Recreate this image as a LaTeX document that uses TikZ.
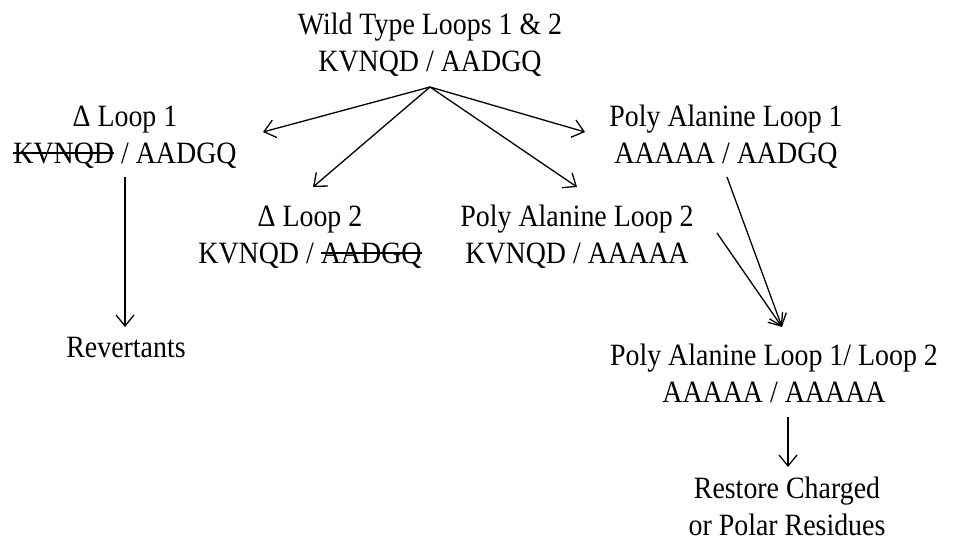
\documentclass[tikz,border=0pt]{standalone}
\usepackage{fontspec}
\setmainfont[FakeStretch=0.9]{Liberation Serif}
\usetikzlibrary{arrows.meta}
\newcommand\mystrike[1]{\setbox0\hbox{#1}\rlap{\raisebox{0.3em}{\rule{\wd0}{0.05em}}}\box0\relax}
\tikzset{
  lbl/.style={align=center, inner sep=0pt, anchor=base, font=\fontsize{31}{37}\selectfont},
  arr/.style={line width=1.3pt, -{Straight Barb[length=11pt,width=18pt,line width=1.3pt]}}
}
\begin{document}
\begin{tikzpicture}[x=1pt,y=-1pt]
\useasboundingbox (0,0) rectangle (954,541);
\node[lbl] (wt) at (430,71) {Wild Type Loops 1 \& 2\\KVNQD / AADGQ};
\node[lbl] (d1) at (125,163) {Δ Loop 1\\\mystrike{KVNQD} / AADGQ};
\node[lbl] (d2) at (310,263) {Δ Loop 2\\KVNQD / \mystrike{AADGQ}};
\node[lbl] (pa2) at (577,263) {Poly Alanine Loop 2\\KVNQD / AAAAA};
\node[lbl] (pa1) at (726,163) {Poly Alanine Loop 1\\AAAAA / AADGQ};
\node[lbl] (pa12) at (774,402) {Poly Alanine Loop 1/ Loop 2\\AAAAA / AAAAA};
\node[lbl] (rev) at (126,357) {Revertants};
\node[lbl] (rest) at (787,535) {Restore Charged\\or Polar Residues};
\coordinate (wtout) at (430,87);
\coordinate (d1in) at (263,132);
\coordinate (d2in) at (313,187);
\coordinate (pa2in) at (577,187);
\coordinate (pa1in) at (585,132);
\coordinate (d1out) at (125,177);
\coordinate (revin) at (125,327);
\coordinate (pa1out) at (727,177);
\coordinate (pa2out) at (717,233);
\coordinate (pa12in) at (782,327);
\coordinate (pa12out) at (788,417);
\coordinate (restin) at (788,467);
\draw[arr] (wtout) -- (d1in);
\draw[arr] (wtout) -- (d2in);
\draw[arr] (wtout) -- (pa2in);
\draw[arr] (wtout) -- (pa1in);
\draw[arr] (d1out) -- (revin);
\draw[arr] (pa1out) -- (pa12in);
\draw[arr] (pa2out) -- (pa12in);
\draw[arr] (pa12out) -- (restin);
\end{tikzpicture}
\end{document}
